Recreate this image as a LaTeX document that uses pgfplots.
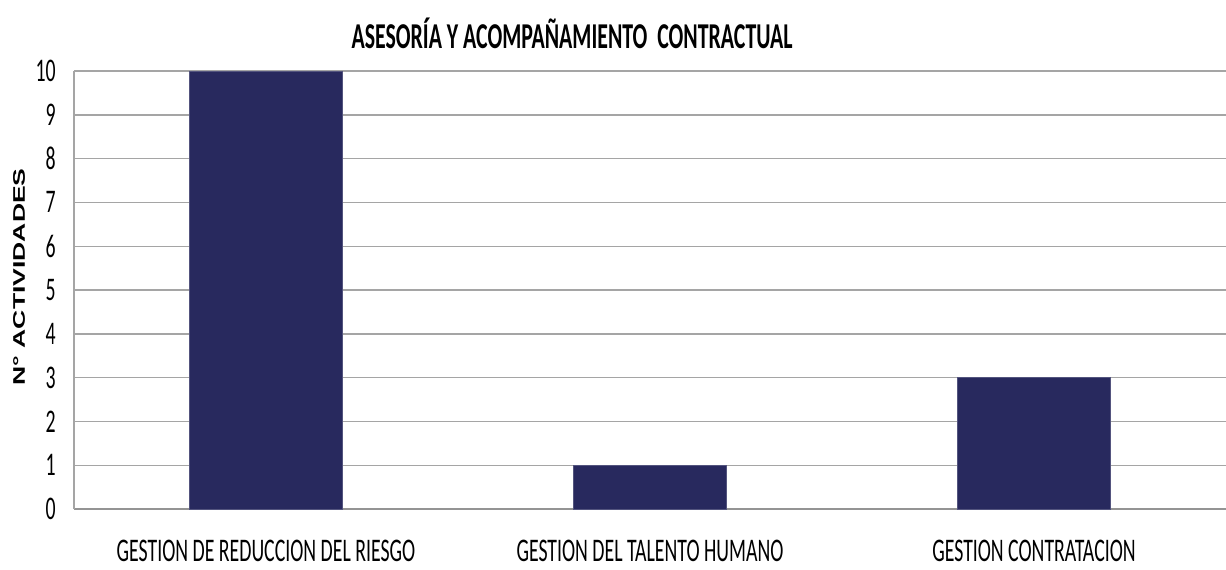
\documentclass[border=0pt]{standalone}
\usepackage{pgfplots}
\pgfplotsset{compat=1.18}
\usepackage{fontspec}
\setmainfont{Carlito}[FakeStretch=0.6]
\newfontfamily\labelfont{Liberation Sans}[FakeStretch=1.58]
\definecolor{barblue}{RGB}{40,41,94}
\definecolor{gridgray}{RGB}{165,165,165}
\begin{document}
\begin{tikzpicture}
\useasboundingbox (0,0) rectangle (613pt,284.5pt);
\node[font=\fontsize{18.2}{20}\selectfont\bfseries] at (286pt,268pt) {ASESORÍA Y ACOMPAÑAMIENTO\ \ CONTRACTUAL};
\begin{axis}[
  at={(37pt,30pt)}, anchor=south west,
  scale only axis, width=576pt, height=219pt,
  xmin=-0.5, xmax=2.5, ymin=0, ymax=10,
  ytick={0,1,...,10},
  xtick={0,1,2},
  xticklabels={GESTION DE REDUCCION DEL RIESGO, GESTION DEL TALENTO HUMANO, GESTION CONTRATACION},
  major tick length=0pt,
  axis lines*=left,
  x axis line style={gridgray!90!black, line width=1.3pt, -},
  y axis line style={gridgray, line width=0.6pt, -},
  ymajorgrids, grid style={gridgray, line width=0.7pt},
  /pgf/number format/assume math mode=true,
  yticklabel style={font=\fontsize{16.5}{16.5}\selectfont, anchor=east, inner sep=0pt, xshift=-9pt},
  xticklabel style={font=\fontsize{16.5}{16.5}\selectfont, anchor=base, inner sep=0pt, yshift=-26pt},
  ylabel={\labelfont\bfseries N° ACTIVIDADES},
  ylabel style={font=\fontsize{8.4}{10}\selectfont, at={(axis description cs:-0.0477,0.53)}, anchor=center},
  ybar, bar width=76.5pt,
]
\addplot[fill=barblue, draw=barblue!80!white] coordinates {(0,10) (1,1) (2,3)};
\end{axis}
\end{tikzpicture}
\end{document}
